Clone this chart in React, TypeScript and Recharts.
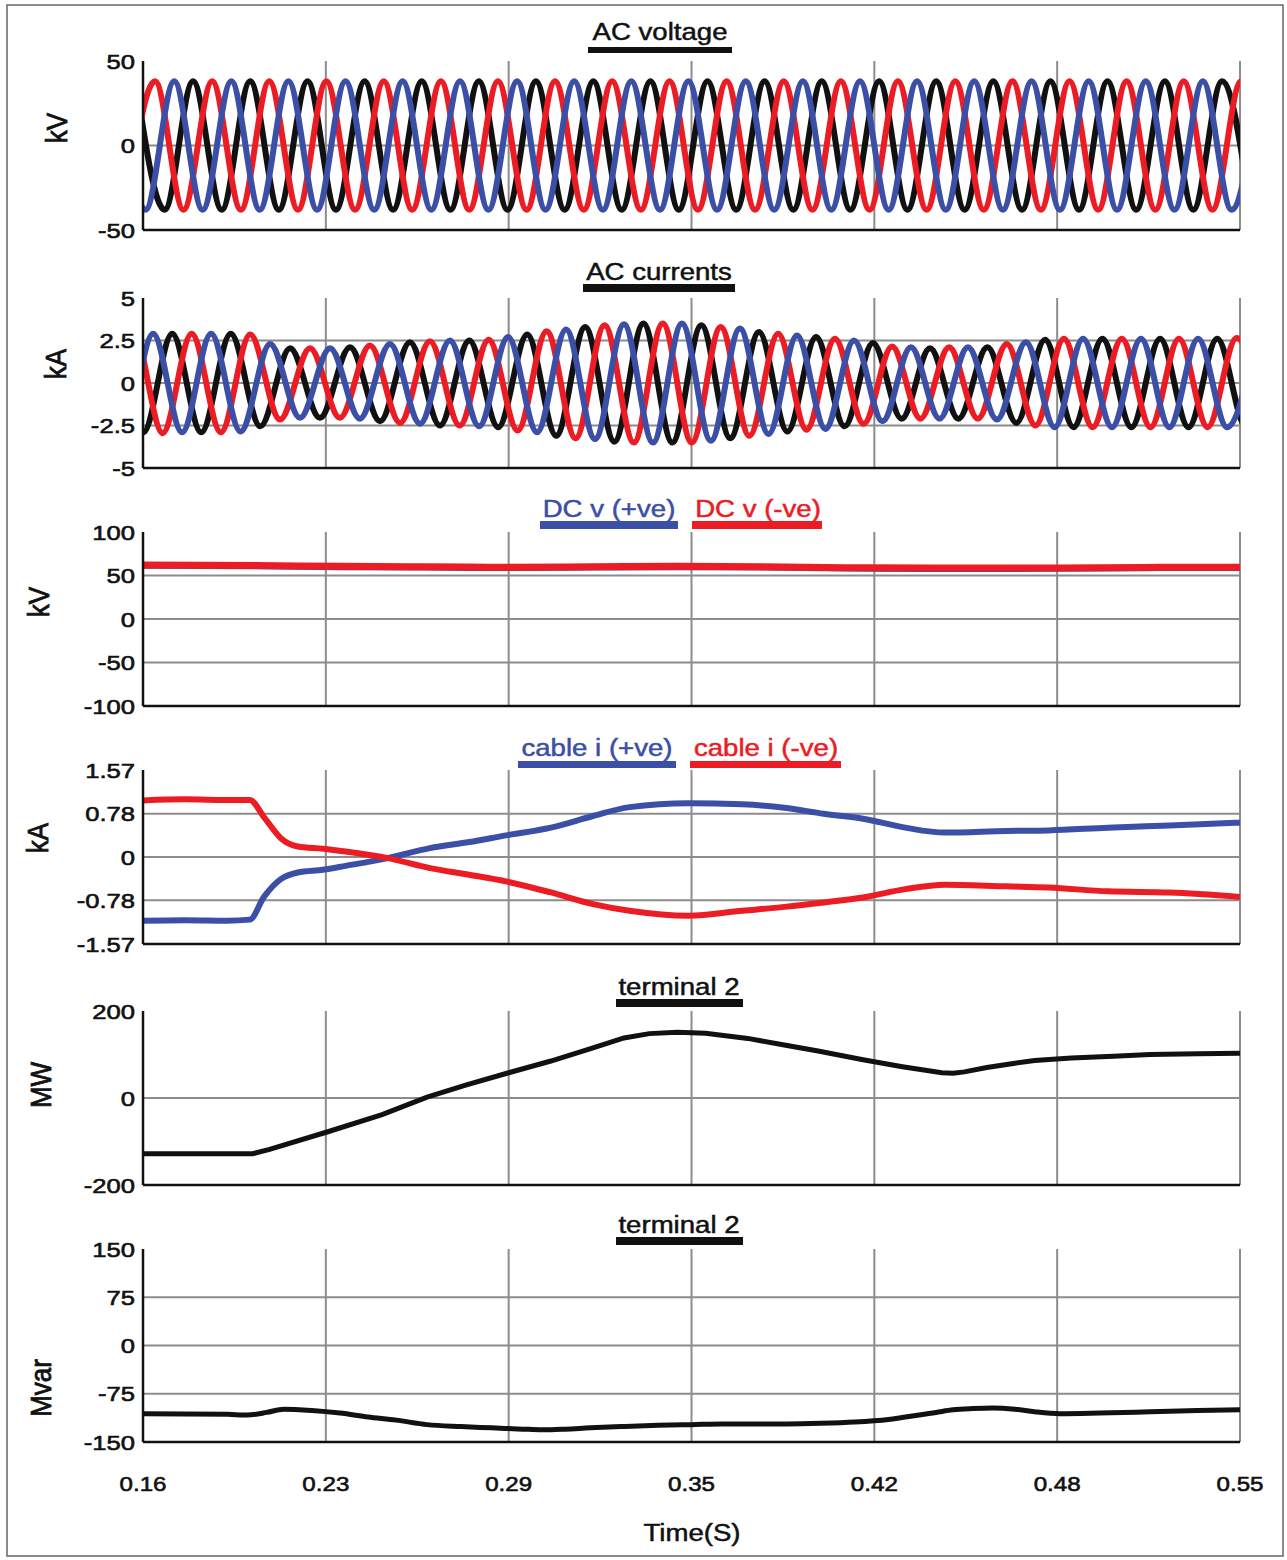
import React from 'react';
import { LineChart, Line, XAxis, YAxis, CartesianGrid } from 'recharts';

// time axis in ms, labelled in seconds
const TIME_TICKS = [160, 225, 290, 355, 420, 485, 550];
const TIME_LABELS = ['0.16', '0.23', '0.29', '0.35', '0.42', '0.48', '0.55'];

// AC voltage: crest / trough points of each phase (ms, kV)
const VOLT_BLACK_T = [157.5, 167.7, 177.8, 188.0, 198.1, 208.3, 218.5, 228.6, 238.8, 248.9, 259.1, 269.3, 279.4, 289.6, 299.7, 309.9, 320.1, 330.2, 340.4, 350.5, 360.7, 370.9, 381.0, 391.2, 401.3, 411.5, 421.7, 431.8, 442.0, 452.1, 462.3, 472.5, 482.6, 492.8, 502.9, 513.1, 523.3, 533.4, 543.6, 553.7];
const VOLT_BLACK = [38, -38, 38, -38, 38, -38, 38, -38, 38, -38, 38, -38, 38, -38, 38, -38, 38, -38, 38, -38, 38, -38, 38, -38, 38, -38, 38, -38, 38, -38, 38, -38, 38, -38, 38, -38, 38, -38, 38, -38];
const VOLT_BLUE_T = [150.7, 160.9, 171.1, 181.2, 191.4, 201.5, 211.7, 221.9, 232.0, 242.2, 252.3, 262.5, 272.7, 282.8, 293.0, 303.1, 313.3, 323.5, 333.6, 343.8, 353.9, 364.1, 374.3, 384.4, 394.6, 404.7, 414.9, 425.1, 435.2, 445.4, 455.5, 465.7, 475.9, 486.0, 496.2, 506.3, 516.5, 526.7, 536.8, 547.0, 557.1];
const VOLT_BLUE = [38, -38, 38, -38, 38, -38, 38, -38, 38, -38, 38, -38, 38, -38, 38, -38, 38, -38, 38, -38, 38, -38, 38, -38, 38, -38, 38, -38, 38, -38, 38, -38, 38, -38, 38, -38, 38, -38, 38, -38, 38];
const VOLT_RED_T = [154.1, 164.3, 174.4, 184.6, 194.8, 204.9, 215.1, 225.2, 235.4, 245.6, 255.7, 265.9, 276.0, 286.2, 296.4, 306.5, 316.7, 326.8, 337.0, 347.2, 357.3, 367.5, 377.6, 387.8, 398.0, 408.1, 418.3, 428.4, 438.6, 448.8, 458.9, 469.1, 479.2, 489.4, 499.6, 509.7, 519.9, 530.0, 540.2, 550.4, 560.5];
const VOLT_RED = [-38, 38, -38, 38, -38, 38, -38, 38, -38, 38, -38, 38, -38, 38, -38, 38, -38, 38, -38, 38, -38, 38, -38, 38, -38, 38, -38, 38, -38, 38, -38, 38, -38, 38, -38, 38, -38, 38, -38, 38, -38];

// AC currents: crest / trough points of each phase (ms, kA)
const CUR_BLUE_T = [142.9, 153.2, 163.6, 173.9, 184.2, 194.7, 205.2, 215.8, 226.5, 237.1, 247.8, 258.5, 269.1, 279.5, 289.8, 300.1, 310.4, 320.7, 331.0, 341.3, 351.6, 361.9, 372.2, 382.4, 392.5, 402.6, 412.8, 422.9, 433.0, 443.2, 453.3, 463.6, 473.9, 484.1, 494.2, 504.5, 514.8, 524.9, 535.1, 545.4, 555.7];
const CUR_BLUE = [2.9, -2.9, 2.9, -2.9, 2.9, -2.85, 2.3, -2.05, 2.05, -2.1, 2.3, -2.4, 2.5, -2.55, 2.7, -2.9, 3.15, -3.3, 3.45, -3.5, 3.5, -3.4, 3.2, -3.0, 2.8, -2.7, 2.5, -2.25, 2.1, -2.1, 2.1, -2.15, 2.4, -2.6, 2.6, -2.6, 2.6, -2.6, 2.6, -2.6, 2.6];
const CUR_RED_T = [146.4, 156.7, 167.0, 177.3, 187.7, 198.1, 208.7, 219.4, 230.0, 240.7, 251.4, 262.0, 272.6, 282.9, 293.2, 303.5, 313.8, 324.1, 334.5, 344.8, 355.1, 365.4, 375.6, 385.8, 395.9, 406.0, 416.2, 426.3, 436.4, 446.6, 456.8, 467.1, 477.3, 487.4, 497.6, 508.0, 518.2, 528.3, 538.5, 548.8, 559.1];
const CUR_RED = [-2.95, 2.95, -2.95, 2.9, -2.9, 2.85, -2.15, 2.05, -2.05, 2.2, -2.35, 2.45, -2.5, 2.55, -2.8, 3.05, -3.25, 3.4, -3.5, 3.5, -3.5, 3.3, -3.1, 2.9, -2.75, 2.6, -2.4, 2.15, -2.1, 2.1, -2.1, 2.3, -2.5, 2.6, -2.6, 2.6, -2.6, 2.6, -2.6, 2.65, -2.65];
const CUR_BLACK_T = [149.8, 160.1, 170.4, 180.7, 191.2, 201.7, 212.3, 222.9, 233.6, 244.3, 254.9, 265.6, 276.0, 286.3, 296.6, 306.9, 317.2, 327.6, 337.9, 348.2, 358.5, 368.8, 379.0, 389.1, 399.3, 409.4, 419.5, 429.7, 439.8, 449.9, 460.2, 470.5, 480.7, 490.8, 501.1, 511.4, 521.6, 531.7, 541.9, 552.2, 562.4];
const CUR_BLACK = [2.9, -2.9, 2.9, -2.9, 2.9, -2.55, 2.05, -2.05, 2.1, -2.25, 2.4, -2.5, 2.5, -2.6, 2.85, -3.1, 3.3, -3.45, 3.5, -3.5, 3.4, -3.25, 3.0, -2.85, 2.7, -2.55, 2.35, -2.1, 2.05, -2.1, 2.1, -2.35, 2.55, -2.6, 2.6, -2.6, 2.6, -2.6, 2.6, -2.6, 2.6];

// DC pole voltages (kV)
const DC_T = [160, 200, 230, 260, 290, 320, 350, 380, 410, 440, 470, 500, 530, 550];
const DC_POS = [60.5, 60, 59, 58.5, 58, 58.5, 59, 58.5, 57.5, 57, 57, 57.5, 58, 58];
const DC_NEG = [62, 61.5, 60.5, 60, 59.5, 60, 60.5, 60, 59, 58.5, 58.5, 59, 59.5, 59.5];

// cable currents (kA)
const CABLE_T = [160, 175, 190, 198, 203, 209, 215, 224, 232, 247, 262, 276, 289, 305, 320, 333, 354, 373, 388, 402, 416, 431, 445, 467, 482, 503, 525, 550];
const CABLE_POS = [-1.15, -1.14, -1.15, -1.13, -0.72, -0.4, -0.28, -0.23, -0.16, -0.02, 0.16, 0.27, 0.39, 0.53, 0.74, 0.9, 0.97, 0.95, 0.89, 0.78, 0.69, 0.53, 0.44, 0.47, 0.48, 0.53, 0.57, 0.62];
const CABLE_NEG = [1.02, 1.04, 1.03, 1.03, 0.72, 0.34, 0.19, 0.15, 0.1, -0.02, -0.2, -0.32, -0.44, -0.64, -0.85, -0.97, -1.06, -0.97, -0.9, -0.82, -0.73, -0.58, -0.5, -0.53, -0.55, -0.62, -0.64, -0.72];

// terminal 2 active power (MW)
const P_T = [160, 199, 205, 226, 245, 261, 275, 290, 305, 320, 331, 340, 350, 360, 375, 387, 400, 416, 430, 444, 448, 452, 460, 470, 477, 490, 505, 518, 535, 550];
const P_MW = [-128, -128, -118, -77, -38, 2, 30, 58, 85, 115, 138, 148, 151, 149, 137, 123, 108, 88, 72, 58, 57, 60, 70, 80, 86, 92, 96, 100, 102, 103];

// terminal 2 reactive power (Mvar)
const Q_T = [160, 190, 197, 204, 210, 220, 230, 240, 250, 261, 273, 284, 295, 302, 310, 319, 330, 343, 355, 366, 378, 389, 401, 413, 425, 436, 442, 448, 455, 462, 470, 477, 486, 500, 518, 535, 550];
const Q_MVAR = [-106, -107, -108, -104, -99, -101, -105, -111, -116, -123, -126, -128, -130, -131, -130, -128, -126, -124, -123, -122, -122, -122, -121, -119, -115, -108, -104, -100, -98, -97, -99, -103, -106, -105, -103, -101, -100];

const W = 1287;
const H = 1560;
const PLOT_L = 143;
const PLOT_R = 1240;
const Y_W = 60;
const FONT = '"Liberation Sans", Arial, sans-serif';
const RED = '#ec1c24';
const BLUE = '#3b4fa6';
const BLACK = '#111111';
const GRID = '#8c8c8c';
const STRETCH = 1.15;

const pts = (ts: number[], vs: number[]) => ts.map((t, i) => ({ t, v: vs[i] }));

function ValueTick(props: any) {
  const { x, y, payload } = props;
  return (
    <text
      transform={`translate(${x},${y}) scale(1.22,1)`}
      textAnchor="end"
      dy="0.36em"
      fontSize={21}
      fontFamily={FONT}
      fill={BLACK}
      stroke={BLACK}
      strokeWidth={0.6}
    >
      {payload.value}
    </text>
  );
}

function TimeTick(props: any) {
  const { x, y, payload } = props;
  const i = TIME_TICKS.indexOf(payload.value);
  return (
    <text
      transform={`translate(${x},${y + 47}) scale(1.15,1)`}
      textAnchor="middle"
      fontSize={21}
      fontFamily={FONT}
      fill={BLACK}
      stroke={BLACK}
      strokeWidth={0.6}
    >
      {TIME_LABELS[i]}
    </text>
  );
}

// keeps the x ticks (and so the vertical grid) without drawing labels
function NoTick() {
  return <g />;
}

interface PanelProps {
  top: number;
  height: number;
  domain: [number, number];
  ticks: number[];
  grid: number[];
  last?: boolean;
  children: React.ReactNode;
}

function Panel({ top, height, domain, ticks, grid, last, children }: PanelProps) {
  const mt = 16;
  const mb = last ? 0 : 16;
  const xh = last ? 70 : 1;
  return (
    <div style={{ position: 'absolute', left: 0, top: top - mt }}>
      <LineChart
        width={W}
        height={height + mt + mb + xh}
        margin={{ top: mt, right: W - PLOT_R, bottom: mb, left: PLOT_L - Y_W }}
      >
        <CartesianGrid
          horizontalValues={grid}
          verticalValues={TIME_TICKS.slice(1)}
          stroke={GRID}
          strokeWidth={2}
        />
        <XAxis
          type="number"
          dataKey="t"
          domain={[160, 550]}
          ticks={TIME_TICKS}
          interval={0}
          allowDataOverflow
          height={xh}
          tickLine={false}
          tickSize={0}
          tick={last ? <TimeTick /> : <NoTick />}
          axisLine={{ stroke: BLACK, strokeWidth: 2.5 }}
        />
        <YAxis
          type="number"
          domain={domain}
          ticks={ticks}
          interval={0}
          allowDataOverflow
          width={Y_W}
          tickLine={false}
          tickSize={0}
          tickMargin={8}
          tick={<ValueTick />}
          axisLine={{ stroke: BLACK, strokeWidth: 2.5 }}
        />
        {children}
      </LineChart>
    </div>
  );
}

function Caption({ text, color, cx, base, x1, x2, barY, barH }: {
  text: string; color: string; cx: number; base: number; x1: number; x2: number; barY: number; barH: number;
}) {
  return (
    <g>
      <text
        transform={`translate(${cx},${base}) scale(${STRETCH},1)`}
        textAnchor="middle"
        fontSize={24}
        fontFamily={FONT}
        fill={color}
        stroke={color}
        strokeWidth={0.5}
      >
        {text}
      </text>
      <rect x={x1} y={barY} width={x2 - x1} height={barH} fill={color} />
    </g>
  );
}

function Unit({ text, cx, cy }: { text: string; cx: number; cy: number }) {
  return (
    <text
      transform={`translate(${cx},${cy}) scale(${STRETCH},1) rotate(-90)`}
      textAnchor="middle"
      dy="0.36em"
      fontSize={26}
      fontFamily={FONT}
      fill={BLACK}
      stroke={BLACK}
      strokeWidth={0.7}
    >
      {text}
    </text>
  );
}

const lineProps = {
  type: 'monotone' as const,
  dataKey: 'v',
  dot: false,
  activeDot: false,
  isAnimationActive: false,
};

export default function App() {
  return (
    <div style={{ position: 'absolute', left: 0, top: 0, width: W, height: H, background: '#fff', overflow: 'hidden' }}>
      {/* AC voltage */}
      <Panel top={61} height={169} domain={[-50, 50]} ticks={[-50, 0, 50]} grid={[0]}>
        <Line {...lineProps} data={pts(VOLT_BLACK_T, VOLT_BLACK)} stroke={BLACK} strokeWidth={6} />
        <Line {...lineProps} data={pts(VOLT_RED_T, VOLT_RED)} stroke={RED} strokeWidth={6} />
        <Line {...lineProps} data={pts(VOLT_BLUE_T, VOLT_BLUE)} stroke={BLUE} strokeWidth={6} />
      </Panel>

      {/* AC currents */}
      <Panel top={297.5} height={170} domain={[-5, 5]} ticks={[-5, -2.5, 0, 2.5, 5]} grid={[-2.5, 0, 2.5]}>
        <Line {...lineProps} data={pts(CUR_BLACK_T, CUR_BLACK)} stroke={BLACK} strokeWidth={6} />
        <Line {...lineProps} data={pts(CUR_RED_T, CUR_RED)} stroke={RED} strokeWidth={6} />
        <Line {...lineProps} data={pts(CUR_BLUE_T, CUR_BLUE)} stroke={BLUE} strokeWidth={6} />
      </Panel>

      {/* DC pole voltages */}
      <Panel top={532} height={174} domain={[-100, 100]} ticks={[-100, -50, 0, 50, 100]} grid={[-50, 0, 50]}>
        <Line {...lineProps} data={pts(DC_T, DC_POS)} stroke={BLUE} strokeWidth={5} />
        <Line {...lineProps} data={pts(DC_T, DC_NEG)} stroke={RED} strokeWidth={7} />
      </Panel>

      {/* cable currents */}
      <Panel top={770} height={174} domain={[-1.57, 1.57]} ticks={[-1.57, -0.78, 0, 0.78, 1.57]} grid={[-0.78, 0, 0.78]}>
        <Line {...lineProps} data={pts(CABLE_T, CABLE_POS)} stroke={BLUE} strokeWidth={6} />
        <Line {...lineProps} data={pts(CABLE_T, CABLE_NEG)} stroke={RED} strokeWidth={6} />
      </Panel>

      {/* active power */}
      <Panel top={1011} height={174} domain={[-200, 200]} ticks={[-200, 0, 200]} grid={[0]}>
        <Line {...lineProps} type="linear" data={pts(P_T, P_MW)} stroke={BLACK} strokeWidth={5} />
      </Panel>

      {/* reactive power */}
      <Panel top={1249} height={193} domain={[-150, 150]} ticks={[-150, -75, 0, 75, 150]} grid={[-75, 0, 75]} last>
        <Line {...lineProps} data={pts(Q_T, Q_MVAR)} stroke={BLACK} strokeWidth={5} />
      </Panel>

      <svg width={W} height={H} style={{ position: 'absolute', left: 0, top: 0, pointerEvents: 'none' }}>
        <rect x={7} y={5} width={1276} height={1551} fill="none" stroke="#666" strokeWidth={1.5} />

        <Caption text="AC voltage" color={BLACK} cx={660} base={40} x1={588} x2={732} barY={47} barH={6} />
        <Caption text="AC currents" color={BLACK} cx={659} base={280} x1={583} x2={735} barY={284} barH={8} />
        <Caption text="DC v (+ve)" color={BLUE} cx={609} base={517} x1={540} x2={678} barY={521} barH={8} />
        <Caption text="DC v (-ve)" color={RED} cx={758} base={517} x1={692} x2={822} barY={521} barH={8} />
        <Caption text="cable i (+ve)" color={BLUE} cx={597} base={756} x1={518} x2={676} barY={761} barH={7} />
        <Caption text="cable i (-ve)" color={RED} cx={766} base={756} x1={690} x2={841} barY={761} barH={7} />
        <Caption text="terminal 2" color={BLACK} cx={679} base={995} x1={616} x2={743} barY={999} barH={8} />
        <Caption text="terminal 2" color={BLACK} cx={679} base={1233} x1={616} x2={743} barY={1237} barH={8} />

        <Unit text="kV" cx={56} cy={128} />
        <Unit text="kA" cx={55} cy={364} />
        <Unit text="kV" cx={38} cy={602} />
        <Unit text="kA" cx={37} cy={838} />
        <Unit text="MW" cx={40} cy={1085} />
        <Unit text="Mvar" cx={40} cy={1388} />

        <text
          transform={`translate(692,1541) scale(${STRETCH},1)`}
          textAnchor="middle"
          fontSize={24}
          fontFamily={FONT}
          fill={BLACK}
          stroke={BLACK}
          strokeWidth={0.5}
        >
          Time(S)
        </text>
      </svg>
    </div>
  );
}
